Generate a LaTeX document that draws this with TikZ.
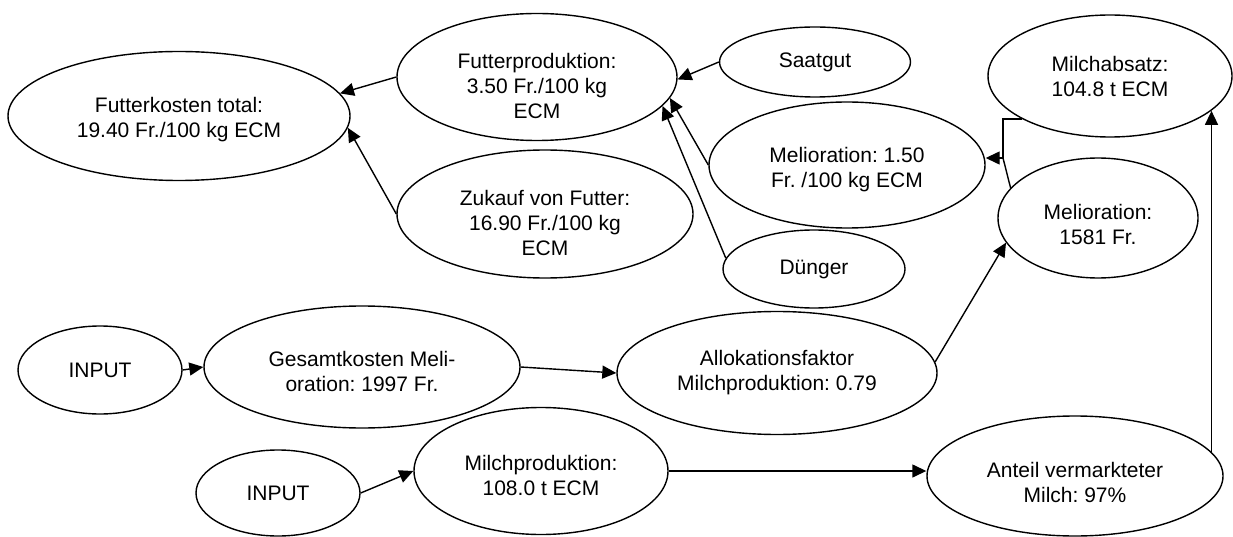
\documentclass[tikz,border=0pt]{standalone}
\usepackage{fontspec}
\setmainfont{Liberation Sans}
\frenchspacing
\usepackage{tikz}
\usetikzlibrary{shapes,arrows.meta}

\begin{document}
\begin{tikzpicture}[x=1pt,y=-1pt]
\tikzstyle{oval}=[
  ellipse,
  draw,
  line width=1.4pt,
  inner sep=0pt,
  align=center,
  font=\fontsize{21}{25}\selectfont ]
\tikzstyle{every node}=[oval]
\tikzstyle{pfeil}=[line width=1.4pt, -{Triangle[length=14pt,width=13pt]}]
\useasboundingbox (0,0) rectangle (1233,537);
% Futterkosten
\node[minimum width=342pt, minimum height=129pt, text height=48pt] (fktotal) at (179,116) {Futterkosten total:\\19.40 Fr./100 kg ECM};
\node[minimum width=280pt, minimum height=127pt, text height=83pt] (fprod) at (537,77) {Futterproduktion:\\3.50 Fr./100 kg\\ECM};
\node[minimum width=296pt, minimum height=128pt, text height=83pt] (zukauf) at (545,214) {Zukauf von Futter:\\16.90 Fr./100 kg\\ECM};
\node[minimum width=191pt, minimum height=70pt] (saatgut) at (815,62) {Saatgut};
\node[minimum width=276pt, minimum height=126pt, text height=50pt] (mfr) at (847,165) {Melioration: 1.50\\Fr. /100 kg ECM};
\node[minimum width=182pt, minimum height=78pt] (duenger) at (814,269) {Dünger};
% Milch und Melioration
\node[minimum width=244pt, minimum height=122pt] (mabsatz) at (1110,76) {Milchabsatz:\\104.8 t ECM};
\node[minimum width=200pt, minimum height=120pt, text height=54pt] (m1581) at (1098,218) {Melioration:\\1581 Fr.};
\node[minimum width=164pt, minimum height=88pt] (input1) at (100,370) {INPUT};
\node[minimum width=316pt, minimum height=122pt, text height=50pt] (gesamt) at (362,367) {Gesamtkosten Meli-\\oration: 1997 Fr.};
\node[minimum width=320pt, minimum height=123pt] (allok) at (777,373) {Allokationsfaktor\\Milchproduktion: 0.79};
\node[minimum width=164pt, minimum height=86pt] (input2) at (278,493) {INPUT};
\node[minimum width=254pt, minimum height=127pt, text height=50pt] (mprod) at (541,471) {Milchproduktion:\\108.0 t ECM};
\node[minimum width=296pt, minimum height=120pt, text height=54pt] (anteil) at (1075,476) {Anteil vermarkteter\\Milch: 97\%};
\coordinate (knick) at (1003,158);

\draw[pfeil] (fprod.west) -- (fktotal.8);
\draw[pfeil] (zukauf.west) -- (fktotal.-4);
\draw[pfeil] (saatgut.west) -- (fprod.-1);
\draw[pfeil] (mfr.west) -- (fprod.-9);
\draw[pfeil] (duenger.173) -- (fprod.-13);
\draw[pfeil] (mabsatz.206) -| (knick) -- (knick -| mfr.east);
\draw[line width=1.4pt] (m1581.161) -- (knick);
\draw[pfeil] (anteil.10.5) -- (anteil.10.5 |- mabsatz.-19);
\draw[pfeil] (allok.4) -- (m1581.195);
\draw[pfeil] (input1.east) -- (gesamt.west);
\draw[pfeil] (gesamt.east) -- (allok.west);
\draw[pfeil] (input2.east) -- (mprod.west);
\draw[pfeil] (mprod.east) -- (mprod.east -| anteil.west);
\end{tikzpicture}
\end{document}
